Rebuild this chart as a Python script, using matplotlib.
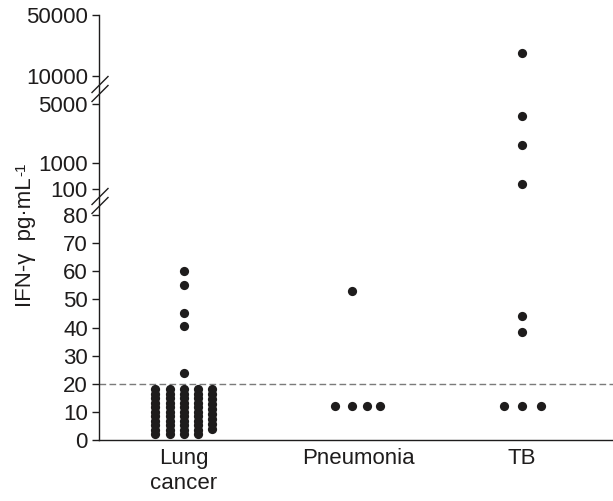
import numpy as np
import matplotlib
matplotlib.use('Agg')
import matplotlib.pyplot as plt
from matplotlib.lines import Line2D

plt.rcParams['font.family'] = ['Liberation Sans', 'DejaVu Sans']
plt.rcParams['font.size'] = 16

# data (pg/mL)
categories = ['Lung\ncancer', 'Pneumonia', 'TB']
lung_cols = [
    [2, 3.6, 5.2, 6.8, 8.4, 10, 11.6, 13.2, 14.8, 16.4, 18],
    [2, 3.6, 5.2, 6.8, 8.4, 10, 11.6, 13.2, 14.8, 16.4, 18],
    [2, 3.6, 5.2, 6.8, 8.4, 10, 11.6, 13.2, 14.8, 16.4, 18, 24, 40.5, 45, 55, 60],
    [2, 3.6, 5.2, 6.8, 8.4, 10, 11.6, 13.2, 14.8, 16.4, 18],
    [4, 5.8, 7.5, 9.3, 11, 12.8, 14.5, 16.3, 18],
]
pneumonia_vals = [53, 12, 12, 12, 12]
tb_vals = [25000, 4200, 2200, 270, 44, 38.5, 12, 12, 12]
cutoff = 20
ytick_vals = [0, 10, 20, 30, 40, 50, 60, 70, 80, 100, 1000, 5000, 10000, 50000]

# layout of the dots (horizontal jitter) and of the broken axis
group_x = [0, 1.006, 1.954]
lung_offsets = [-0.165, -0.083, 0, 0.08, 0.165]
pneu_offsets = [-0.035, -0.13, -0.035, 0.05, 0.13]
tb_offsets = [0, 0, 0, 0, 0, 0, -0.104, 0, 0.11]
axis_vals = [0, 80, 100, 1000, 5000, 10000, 50000]
axis_pos = [0, 225, 251, 277, 336, 364, 425]


def fwd(v):
    return np.interp(v, axis_vals, axis_pos)


def inv(p):
    return np.interp(p, axis_pos, axis_vals)


W, H = 613, 501
ink = '#1e1c1c'
fig = plt.figure(figsize=(W / 100, H / 100), dpi=100)
ax = fig.add_axes([99 / W, 61 / H, 514 / W, 425 / H])
ax.set_yscale('function', functions=(fwd, inv))
ax.set_ylim(0, 50000)
ax.set_xlim(-0.491, 2.48)

dot = dict(s=44, color=ink, zorder=3, linewidths=0)
for off, col in zip(lung_offsets, lung_cols):
    ax.scatter([group_x[0] + off] * len(col), col, **dot)
ax.scatter([group_x[1] + o for o in pneu_offsets], pneumonia_vals, **dot)
ax.scatter([group_x[2] + o for o in tb_offsets], tb_vals, **dot)

ax.axhline(cutoff, color='#7a7a7a', lw=1.0, dashes=(4.8, 2.4), zorder=1)

ax.spines['top'].set_visible(False)
ax.spines['right'].set_visible(False)
for s in ('left', 'bottom'):
    ax.spines[s].set_linewidth(1.0)
    ax.spines[s].set_color(ink)

ax.set_yticks(ytick_vals)
ax.set_yticklabels([str(v) for v in ytick_vals])
ax.yaxis.set_minor_locator(matplotlib.ticker.NullLocator())
ax.tick_params(axis='y', length=5, width=1.0, pad=3, labelsize=16, colors=ink)
ax.set_xticks(group_x)
ax.set_xticklabels(categories)
ax.tick_params(axis='x', length=0, pad=6, labelsize=16, colors=ink)

# axis break marks (double slash across the y spine)
for lo, hi in [(80, 100), (5000, 10000)]:
    yc = (ax.transData.transform((0, lo))[1] + ax.transData.transform((0, hi))[1]) / 2 + 1
    xc = ax.transAxes.transform((0, 0))[0] + 1
    for dy in (-4.5, 4.5):
        xs = np.array([xc - 8, xc + 8]) / W
        ys = (np.array([yc - 8, yc + 8]) + dy) / H
        fig.add_artist(Line2D(xs, ys, transform=fig.transFigure, color=ink, lw=1.0))

# y label with a small raised "-1"
lab = fig.text(26 / W, 1 - 307 / H, 'IFN-γ  pg·mL', rotation=90,
               ha='center', va='bottom', fontsize=16, color=ink)
fig.canvas.draw()
bb = lab.get_window_extent(fig.canvas.get_renderer())
fig.text((bb.x0 - 1) / W, (bb.y1 + 1) / H, '-1', rotation=90,
         ha='left', va='bottom', fontsize=11, color=ink)

fig.savefig('out.png', dpi=100)
